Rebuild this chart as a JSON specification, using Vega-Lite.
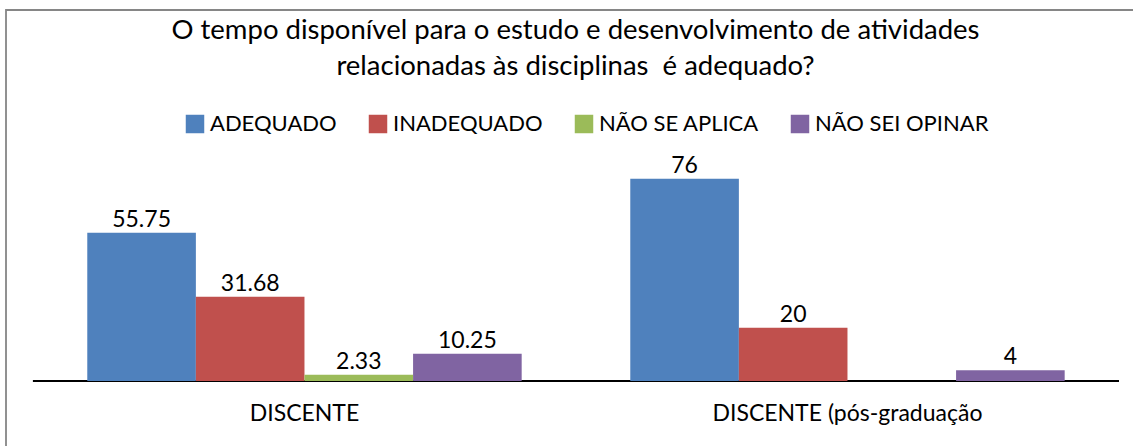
{
  "$schema": "https://vega.github.io/schema/vega-lite/v6.json",
  "width": 1139,
  "height": 448,
  "autosize": {"type": "none"},
  "padding": {"left": 6, "top": 10, "right": -12, "bottom": -12},
  "background": "white",
  "config": {
    "view": {"stroke": "#868686", "strokeWidth": 1.8},
    "font": "Lato"
  },
  "title": {
    "text": ["O tempo disponível para o estudo e desenvolvimento de atividades", "relacionadas às disciplinas\u00a0 é adequado?"],
    "font": "Lato",
    "fontSize": 27.5,
    "fontWeight": "normal",
    "color": "black",
    "anchor": "middle",
    "baseline": "top",
    "offset": -70.5,
    "lineHeight": 36
  },
  "data": {
    "values": [
      {"grupo": "DISCENTE", "resposta": "ADEQUADO", "valor": 55.75},
      {"grupo": "DISCENTE", "resposta": "INADEQUADO", "valor": 31.68},
      {"grupo": "DISCENTE", "resposta": "NÃO SE APLICA", "valor": 2.33},
      {"grupo": "DISCENTE", "resposta": "NÃO SEI OPINAR", "valor": 10.25},
      {"grupo": "DISCENTE (pós-graduação", "resposta": "ADEQUADO", "valor": 76},
      {"grupo": "DISCENTE (pós-graduação", "resposta": "INADEQUADO", "valor": 20},
      {"grupo": "DISCENTE (pós-graduação", "resposta": "NÃO SEI OPINAR", "valor": 4}
    ]
  },
  "layer": [
    {
      "mark": {"type": "rect", "stroke": "black", "strokeWidth": 2, "fillOpacity": 0},
      "encoding": {
        "x": {"field": "grupo", "type": "nominal", "sort": null, "axis": null,
              "scale": {"paddingInner": 0, "paddingOuter": 0.0488, "align": 0.509}},
        "y": {"datum": 0, "type": "quantitative", "axis": null,
              "scale": {"domain": [-28.95, 139.47], "nice": false, "zero": false}},
        "y2": {"datum": 0}
      }
    },
    {
      "mark": {"type": "bar"},
      "encoding": {
        "x": {"field": "grupo", "type": "nominal", "sort": null, "axis": null,
              "scale": {"paddingInner": 0, "paddingOuter": 0.0488, "align": 0.509}},
        "xOffset": {"field": "resposta", "type": "nominal",
                    "sort": ["ADEQUADO", "INADEQUADO", "NÃO SE APLICA", "NÃO SEI OPINAR"],
                    "scale": {"domain": ["ADEQUADO", "INADEQUADO", "NÃO SE APLICA", "NÃO SEI OPINAR"], "paddingInner": 0, "paddingOuter": 0.5}},
        "y": {"field": "valor", "type": "quantitative", "axis": null,
              "scale": {"domain": [-28.95, 139.47], "nice": false, "zero": false}},
        "y2": {"datum": 0},
        "color": {
          "field": "resposta", "type": "nominal",
          "sort": ["ADEQUADO", "INADEQUADO", "NÃO SE APLICA", "NÃO SEI OPINAR"],
          "scale": {"domain": ["ADEQUADO", "INADEQUADO", "NÃO SE APLICA", "NÃO SEI OPINAR"],
                    "range": ["#4F81BD", "#C0504D", "#9BBB59", "#8064A2"]},
          "legend": {
            "orient": "none", "legendX": 178, "legendY": 103,
            "direction": "horizontal", "columns": 4, "title": null,
            "symbolType": "square", "symbolSize": 342, "symbolStrokeWidth": 0,
            "symbolOpacity": 1, "labelFont": "Lato", "labelFontSize": 22,
            "labelColor": "black", "labelOffset": 4, "columnPadding": 30,
            "padding": 0, "labelLimit": 0
          }
        }
      }
    },
    {
      "mark": {"type": "text", "font": "Lato", "fontSize": 23, "color": "black", "baseline": "alphabetic", "dy": -6},
      "encoding": {
        "x": {"field": "grupo", "type": "nominal", "sort": null, "axis": null,
              "scale": {"paddingInner": 0, "paddingOuter": 0.0488, "align": 0.509}},
        "xOffset": {"field": "resposta", "type": "nominal",
                    "sort": ["ADEQUADO", "INADEQUADO", "NÃO SE APLICA", "NÃO SEI OPINAR"],
                    "scale": {"domain": ["ADEQUADO", "INADEQUADO", "NÃO SE APLICA", "NÃO SEI OPINAR"], "paddingInner": 0, "paddingOuter": 0.5}},
        "y": {"field": "valor", "type": "quantitative", "axis": null,
              "scale": {"domain": [-28.95, 139.47], "nice": false, "zero": false}},
        "text": {"field": "valor", "type": "quantitative"}
      }
    },
    {
      "data": {"values": [{"grupo": "DISCENTE"}, {"grupo": "DISCENTE (pós-graduação"}]},
      "mark": {"type": "text", "font": "Lato", "fontSize": 23, "color": "black", "baseline": "alphabetic"},
      "encoding": {
        "x": {"field": "grupo", "type": "nominal", "sort": null, "axis": null,
              "scale": {"paddingInner": 0, "paddingOuter": 0.0488, "align": 0.509}},
        "y": {"datum": -15.04, "type": "quantitative", "axis": null,
              "scale": {"domain": [-28.95, 139.47], "nice": false, "zero": false}},
        "text": {"field": "grupo", "type": "nominal"}
      }
    }
  ]
}
